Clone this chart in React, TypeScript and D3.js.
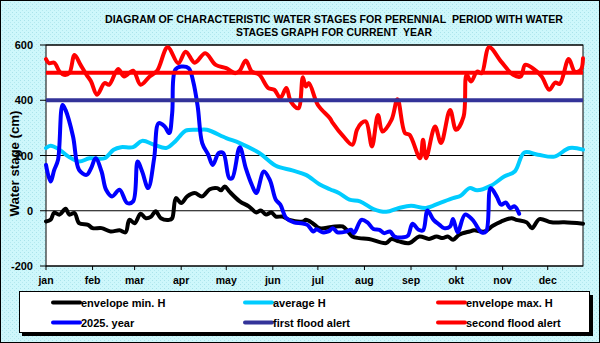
import React from 'react';
import * as d3 from 'd3';

const W = 600;
const H = 343;
const FONT = "'Liberation Sans Narrow', 'Arial Narrow', 'Liberation Sans', Arial, sans-serif";

const titleLines = [
  'DIAGRAM OF CHARACTERISTIC WATER STAGES FOR PERENNIAL  PERIOD WITH WATER',
  'STAGES GRAPH FOR CURRENT  YEAR',
];
const yLabel = 'Water stage (cm)';

// day of year where each month starts
const monthStarts = [0, 31, 59, 90, 120, 151, 181, 212, 243, 273, 304, 334];
const monthLabels = ['jan', 'feb', 'mar', 'apr', 'may', 'jun', 'jul', 'aug', 'sep', 'okt', 'nov', 'dec'];
const yTicks = [-200, 0, 200, 400, 600];

// [day, cm]
const envelopeMin: [number, number][] = [
  [0, -39], [3, -33], [5.5, -7], [9, -14], [13, 7], [15.5, -14], [19, -8], [22, -45], [28, -51],
  [31, -63], [37, -63], [43, -75], [49, -71], [53, -78], [55.5, -33], [59, -45], [63, -11],
  [66.5, -27], [70, -21], [73, -2], [76.5, -27], [82, -33], [84, -27], [86.5, 46], [90, 28],
  [94, 52], [99, 64], [104, 52], [109, 78], [114, 82], [116.5, 74], [119, 88], [122, 70],
  [129, 34], [135, 16], [140, -6], [143, 1], [146.5, -14], [150, -6], [153, -21], [157.5, -21],
  [162, -33], [171, -39], [173, -33], [177.5, -45], [182, -63], [190, -59], [197.5, -57],
  [201, -75], [204, -93], [208.5, -99], [215, -102], [226.5, -117], [230, -102], [235, -111],
  [242, -117], [248.5, -93], [255, -102], [260, -93], [264, -99], [267.5, -93], [271, -105],
  [275, -87], [282, -75], [285, -71], [292, -75], [297.5, -54], [303, -39], [310, -27],
  [313, -33], [320, -42], [323.5, -63], [328.5, -30], [336.5, -42], [345, -42], [357.5, -47],
];

const averageH: [number, number][] = [
  [0, 227], [3, 235], [9, 221], [15, 196], [22, 178], [29, 190], [39, 190], [45, 221], [50, 230],
  [58, 230], [64, 253], [72, 239], [80, 227], [86, 251], [89, 269], [93, 290], [102, 293],
  [107, 293], [120, 263], [129, 245], [142, 209], [153, 163], [164, 146], [173, 130], [182, 96],
  [189, 78], [195, 64], [202, 40], [209, 34], [218, 6], [226.5, -4], [235, 10], [243, 18],
  [253, 10], [262, 28], [271, 46], [276, 54], [282, 82], [287, 74], [296, 90], [305, 124],
  [312, 142], [318.5, 211], [327.5, 203], [338.5, 196], [348.5, 227], [357.5, 221],
];

const envelopeMax: [number, number][] = [
  [0, 549], [2, 534], [5.5, 536], [9, 504], [12, 492], [15.5, 498], [19, 564], [23, 528],
  [27, 492], [30, 468], [34, 420], [39, 462], [42, 456], [48, 513], [52, 486], [58, 507],
  [63, 456], [69, 486], [74, 507], [81, 592], [88, 534], [93, 576], [99, 536], [106, 570],
  [113, 528], [120, 516], [126, 498], [129, 507], [133, 544], [137, 504], [142, 492], [148, 444],
  [152, 438], [156, 408], [160, 444], [163, 395], [168, 371], [171, 483], [173, 450], [175, 462],
  [181, 383], [189, 335], [191, 317], [198, 269], [204, 239], [207, 293], [210, 317], [213, 323],
  [217, 233], [221, 347], [224, 287], [230, 329], [234, 404], [239, 281], [242, 275], [249, 190],
  [251, 257], [253, 190], [259, 305], [263, 245], [269, 365], [273, 293], [278, 341], [280, 492],
  [283, 468], [287, 504], [290, 498], [295, 592], [303, 540], [311, 492], [316, 486], [319, 528],
  [324, 516], [330, 486], [335, 438], [339, 464], [342, 459], [348, 549], [352, 504], [356, 510],
  [357.5, 552],
];

const year2025: [number, number][] = [
  [0, 166], [3, 106], [5.5, 148], [8, 184], [11, 383], [13, 365], [18, 269], [22, 148], [27, 130],
  [30, 154], [33, 190], [37, 142], [40, 76], [44, 52], [49, 76], [54, 28], [58, 34], [61, 178],
  [64, 142], [68, 82], [72, 190], [75, 317], [79, 305], [82, 281], [84, 353], [86, 510], [90, 522],
  [95, 516], [98, 468], [101, 377], [104, 245], [108, 203], [111, 166], [115, 209], [118, 209],
  [122, 118], [124, 118], [129, 230], [133, 154], [137, 94], [140, 64], [145, 142], [149, 112],
  [153, 40], [156, 22], [160, -27], [165, -42], [170, -45], [174, -51], [178, -75], [180, -67],
  [184, -78], [188, -75], [191, -63], [194, -78], [200, -75], [203, -69], [205, -81], [210, -33],
  [214, -42], [218, -66], [222, -69], [225, -81], [229, -75], [232, -93], [238, -96], [241, -90],
  [244, -47], [248, -69], [251, -71], [254, 1], [258, -33], [262, -51], [265, -63], [269, -57],
  [271, -30], [274, -78], [279, -14], [284, -33], [290, -78], [293, -75], [296, 82], [300, 52],
  [303, 22], [306, 30], [309, 10], [312, 16], [315, -11],
];

const firstFloodAlert = 400;
const secondFloodAlert = 500;

const plot = { left: 46, right: 583, top: 45, bottom: 266 };

const x = d3.scaleLinear().domain([0, 357.5]).range([plot.left, plot.right]);
const y = d3.scaleLinear().domain([-200, 600]).range([plot.bottom, plot.top]);

const line = d3
  .line<[number, number]>()
  .x((d) => x(d[0]))
  .y((d) => y(d[1]))
  .curve(d3.curveCatmullRom.alpha(0.5));

const series = [
  { name: 'envelope min. H', data: envelopeMin, color: '#000000' },
  { name: 'average H', data: averageH, color: '#00ccff' },
  { name: 'envelope max. H', data: envelopeMax, color: '#ff0000' },
  { name: '2025. year', data: year2025, color: '#0000ff' },
];

const legendItems = [
  { name: 'envelope min. H', color: '#000000' },
  { name: 'average H', color: '#00ccff' },
  { name: 'envelope max. H', color: '#ff0000' },
  { name: '2025. year', color: '#0000ff' },
  { name: 'first flood alert', color: '#333399' },
  { name: 'second flood alert', color: '#ff0000' },
];
const legendCols = [53, 245, 438];
const legendRows = [302.5, 322.5];

export default function App() {
  return (
    <div style={{ position: 'absolute', left: 0, top: 0 }}>
      <svg width={W} height={H} style={{ display: 'block' }}>
        <defs>
          <pattern id="dots" width="4" height="4" patternUnits="userSpaceOnUse">
            <rect width="4" height="4" fill="#cef7fb" />
            <rect x="0" y="0" width="1" height="1" fill="#a9e3ea" />
            <rect x="2" y="2" width="1" height="1" fill="#b4e9ef" />
          </pattern>
        </defs>
        <rect x={0} y={0} width={W} height={H} fill="url(#dots)" />
        <rect x={0.5} y={0.5} width={W - 1} height={H - 1} fill="none" stroke="#000" />

        {/* title */}
        <g fontFamily={FONT} fontWeight="bold" fontSize={11} textAnchor="middle" fill="#000">
          <text x={334} y={23} textLength={458} lengthAdjust="spacingAndGlyphs" style={{ whiteSpace: 'pre' }}>
            {titleLines[0]}
          </text>
          <text x={334} y={36} textLength={196} lengthAdjust="spacingAndGlyphs" style={{ whiteSpace: 'pre' }}>
            {titleLines[1]}
          </text>
        </g>

        {/* plot area */}
        <rect
          x={plot.left}
          y={plot.top}
          width={plot.right - plot.left}
          height={plot.bottom - plot.top}
          fill="#fff"
        />
        {yTicks.map((t) => (
          <line key={t} x1={plot.left} x2={plot.right} y1={y(t)} y2={y(t)} stroke="#000" strokeWidth={1} />
        ))}
        <rect
          x={plot.left}
          y={plot.top}
          width={plot.right - plot.left}
          height={plot.bottom - plot.top}
          fill="none"
          stroke="#000"
          strokeWidth={1}
        />

        {/* y axis */}
        <g fontFamily={FONT} fontWeight="bold" fontSize={11} fill="#000">
          {yTicks.map((t) => (
            <g key={t}>
              <line x1={plot.left - 6} x2={plot.left} y1={y(t)} y2={y(t)} stroke="#000" />
              <text x={33} y={y(t) + 4} textAnchor="end">
                {t}
              </text>
            </g>
          ))}
        </g>
        <text
          transform={`translate(19,${(plot.top + plot.bottom) / 2 + 8}) rotate(-90)`}
          textAnchor="middle"
          fontFamily="'Liberation Sans', Arial, sans-serif"
          fontWeight="bold"
          fontSize={13}
          textLength={106}
          lengthAdjust="spacingAndGlyphs"
        >
          {yLabel}
        </text>

        {/* x axis */}
        <g fontFamily={FONT} fontWeight="bold" fontSize={10.5} fill="#000" textAnchor="middle">
          {monthStarts.map((d, i) => (
            <g key={d}>
              <line x1={x(d)} x2={x(d)} y1={plot.bottom} y2={plot.bottom + 4} stroke="#000" />
              <text x={x(d)} y={284}>
                {monthLabels[i]}
              </text>
            </g>
          ))}
        </g>

        {/* series */}
        <g>
          {series.map((s) => (
            <path
              key={s.name}
              d={line(s.data) || ''}
              fill="none"
              stroke={s.color}
              strokeWidth={4}
              strokeLinejoin="round"
              strokeLinecap="round"
            />
          ))}
          <line
            x1={plot.left}
            x2={plot.right}
            y1={y(firstFloodAlert)}
            y2={y(firstFloodAlert)}
            stroke="#333399"
            strokeWidth={4}
          />
          <line
            x1={plot.left}
            x2={plot.right}
            y1={y(secondFloodAlert)}
            y2={y(secondFloodAlert)}
            stroke="#ff0000"
            strokeWidth={4}
          />
        </g>

        {/* legend */}
        <rect x={22} y={295} width={571} height={41} fill="#000" />
        <rect x={19.5} y={291.5} width={570} height={41} fill="#fff" stroke="#000" />
        <g fontFamily={FONT} fontWeight="bold" fontSize={11} fill="#000">
          {legendItems.map((item, i) => {
            const cx = legendCols[i % 3];
            const cy = legendRows[Math.floor(i / 3)];
            return (
              <g key={item.name}>
                <line x1={cx} x2={cx + 27} y1={cy} y2={cy} stroke={item.color} strokeWidth={4} strokeLinecap="round" />
                <text x={cx + 28} y={cy + 4}>
                  {item.name}
                </text>
              </g>
            );
          })}
        </g>
      </svg>
    </div>
  );
}
